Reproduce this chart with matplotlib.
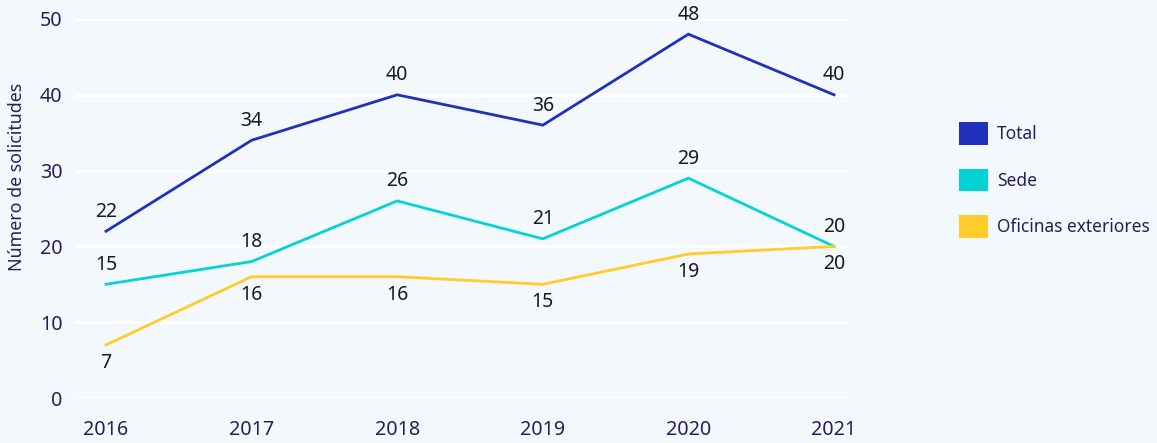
import matplotlib
matplotlib.use("Agg")
from matplotlib import pyplot as plt
from matplotlib.patches import Patch

years = [2016, 2017, 2018, 2019, 2020, 2021]
total = [22, 34, 40, 36, 48, 40]
sede = [15, 18, 26, 21, 29, 20]
oficinas = [7, 16, 16, 15, 19, 20]

series_names = ["Total", "Sede", "Oficinas exteriores"]
colors = ["#2130B8", "#05D3D3", "#FFCC29"]
y_ticks = [0, 10, 20, 30, 40, 50]

plt.rcParams['font.family'] = ['Noto Sans', 'DejaVu Sans']
bg = "#F3F8FD"
txt = "#2B1C5C"

fig = plt.figure(figsize=(11.57, 4.43), dpi=100, facecolor=bg)
ax = fig.add_axes([75/1157, 1 - 398/443, (848 - 75)/1157, (398 - 19)/443])
ax.set_facecolor(bg)

for sp in ax.spines.values():
    sp.set_visible(False)

ax.set_xlim(2015.787, 2021.096)
ax.set_ylim(0, 50)
ax.set_yticks(y_ticks)
ax.set_xticks(years)
ax.set_xticklabels([str(y) for y in years])
ax.grid(axis='y', color='white', linewidth=2.5)
ax.set_axisbelow(True)
ax.tick_params(axis='y', length=0, pad=9, labelsize=14.2, labelcolor=txt)
ax.tick_params(axis='x', length=0, pad=16, labelsize=14.2, labelcolor=txt)

# etiquetas: arriba para Total y Sede, abajo para Oficinas
placements = [14, 14, -13]
for vals, c, pl in zip([total, sede, oficinas], colors, placements):
    ax.plot(years, vals, color=c, linewidth=2.0, solid_joinstyle='miter', clip_on=False)
    for x, v in zip(years, vals):
        ax.annotate(str(v), xy=(x, v), xytext=(0, pl), textcoords='offset points',
                    ha='center', va='center', fontsize=14, color='#1a1a1a')

fig.text(17/1157, 1 - 177/443, "Número de solicitudes", rotation=90,
         ha='center', va='center', fontsize=12.8, color=txt)

handles = [Patch(facecolor=c, edgecolor='none') for c in colors]
fig.legend(handles, series_names, loc='center left', bbox_to_anchor=(959/1157, 1 - 180/443),
           frameon=False, fontsize=12.5, handlelength=1.65, handleheight=1.65,
           labelspacing=1.35, handletextpad=0.55, borderpad=0, borderaxespad=0,
           labelcolor=txt)

fig.savefig("out.png", dpi=100, facecolor=bg)
